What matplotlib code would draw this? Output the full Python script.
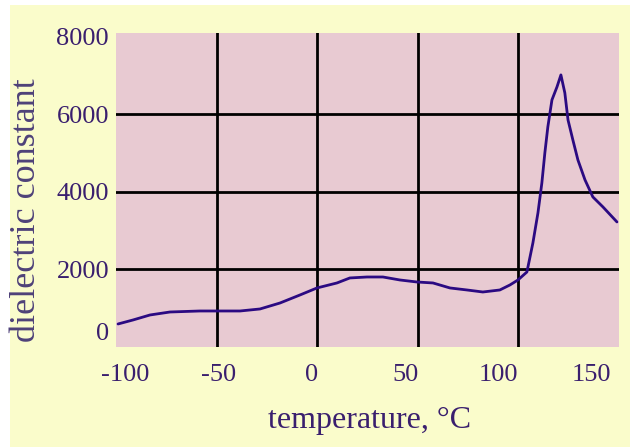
import matplotlib
matplotlib.use("Agg")
import matplotlib.pyplot as plt
from matplotlib.patches import Rectangle
from matplotlib.transforms import ScaledTranslation

# Data
temperature = [-103.7, -95.7, -86.6, -75.9, -59.9, -50.7, -38.4, -27.7, -17.0, -6.3,
               2.8, 13.5, 20.4, 29.6, 38.1, 47.2, 56.3, 64.9, 74.0, 83.1,
               91.6, 100.7, 106.1, 110.4, 115.2, 118.4, 121.1, 123.2, 124.8, 126.4,
               128.6, 131.3, 133.4, 135.5, 137.2, 139.8, 142.5, 146.3, 150.5, 155.9, 163.4]
dielectric = [594, 697, 826, 903, 929, 929, 929, 981, 1135, 1342,
              1523, 1652, 1781, 1806, 1806, 1729, 1677, 1652, 1523, 1471,
              1419, 1471, 1600, 1729, 1935, 2684, 3458, 4232, 5006, 5677,
              6374, 6710, 7019, 6555, 5858, 5342, 4826, 4310, 3871, 3613, 3226]
x_ticks = [-100, -50, 0, 50, 100, 150]
x_tick_labels = ["-100", "-50", "0", "50", "100", "150"]
y_ticks = [0, 2000, 4000, 6000, 8000]
y_tick_labels = ["0", "2000", "4000", "6000", "8000"]
y_grid = [2000, 4000, 6000]
x_grid_fractions = [0.2, 0.4, 0.6, 0.8]

YELLOW = "#FAFCCB"
PINK = "#E8CAD2"
INK = "#2B0A82"
TEXT = "#3A1F6E"

fig = plt.figure(figsize=(6.30, 4.47), dpi=100, facecolor="white")
fig.patches.append(Rectangle((10 / 630, 0), 1 - 10 / 630, 1 - 5 / 447,
                             transform=fig.transFigure, facecolor=YELLOW,
                             edgecolor="none", zorder=-10))

ax = fig.add_axes([116 / 630, 1 - 347 / 447, 503 / 630, 314 / 447])
ax.set_facecolor(PINK)
for s in ax.spines.values():
    s.set_visible(False)

ax.set_xlim(-104.8, 164.5)
ax.set_ylim(0, 8100)

for f in x_grid_fractions:
    ax.plot([f, f], [0, 1], transform=ax.transAxes, color="black", lw=2.0, zorder=1)
for g in y_grid:
    ax.axhline(g, color="black", lw=2.0, zorder=1)

ax.plot(temperature, dielectric, color=INK, lw=2.0, zorder=3,
        solid_capstyle="round", solid_joinstyle="round")

font = ["Liberation Serif", "DejaVu Serif"]
ax.set_xticks(x_ticks)
ax.set_xticklabels(x_tick_labels, family=font, fontsize=19, color=TEXT)
ax.set_yticks(y_ticks)
ax.set_yticklabels(y_tick_labels, family=font, fontsize=19, color=TEXT)
ax.tick_params(axis="x", length=0, pad=12)
ax.tick_params(axis="y", length=0, pad=5)

# the "0" label sits higher than the axis bottom in the reference
lab0 = ax.get_yticklabels()[0]
lab0.set_transform(lab0.get_transform() + ScaledTranslation(0, 15 / 100, fig.dpi_scale_trans))

ax.set_xlabel("temperature, \u00b0C", family=font, fontsize=23, color=TEXT, labelpad=16)
ax.set_ylabel("dielectric constant", family=font, fontsize=26, color="#4E4179")
ax.yaxis.set_label_coords(-0.177, 0.436)
ax.xaxis.set_label_coords(0.505, -0.235)
ax.xaxis.label.set_va("center")
ax.yaxis.label.set_va("center")

fig.savefig("out.png", dpi=100, facecolor=fig.get_facecolor())
